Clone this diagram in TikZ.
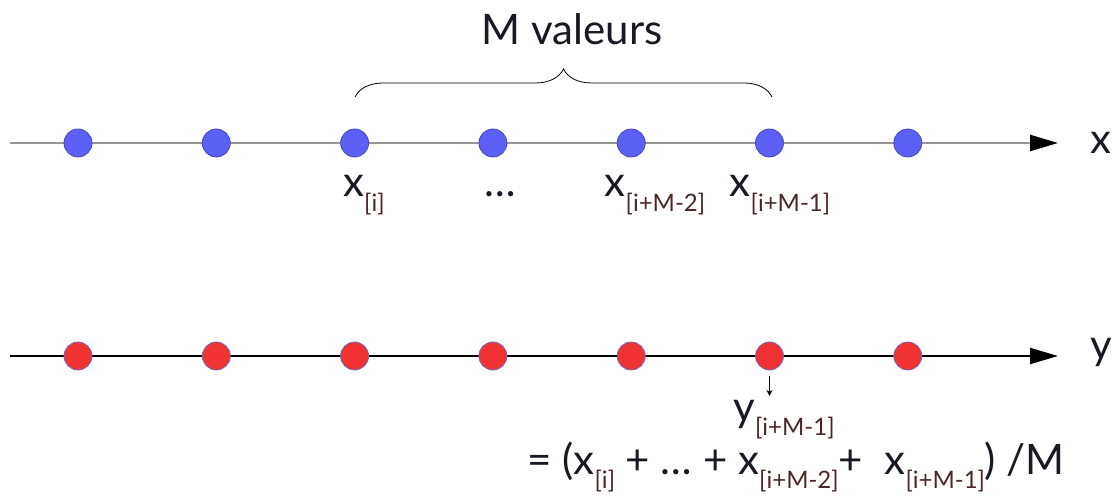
\documentclass[tikz,border=0pt]{standalone}
\usepackage{fontspec}
\setmainfont{Lato}
\usetikzlibrary{calc, positioning}
\usetikzlibrary{arrows.meta}
\usetikzlibrary{decorations.pathreplacing}

\definecolor{dotblue}{RGB}{92,96,245}
\definecolor{dotred}{RGB}{240,50,50}
\definecolor{axisgray}{RGB}{150,150,150}
\definecolor{subbrown}{RGB}{75,40,40}
\definecolor{textdark}{RGB}{25,25,35}
\newcommand{\subidx}[1]{\raisebox{-0.7ex}{\fontsize{12}{14}\selectfont\color{subbrown}[#1]}}

\begin{document}
\begin{tikzpicture}[x=0.5pt,y=-0.5pt,font=\fontsize{21}{25}\selectfont,text=textdark,
  bluedot/.style={circle,fill=dotblue,draw=dotblue!75!black,line width=0.4pt,minimum size=14pt,inner sep=0pt},
  reddot/.style={circle,fill=dotred,draw=dotblue!60!gray,line width=0.4pt,minimum size=14pt,inner sep=0pt},
  axis/.style={line width=1.2pt,-{Triangle[length=14pt,width=8pt]}}]
\useasboundingbox (0,0) rectangle (1114,497);
\def\topy{143}
\def\boty{356}
\def\gap{138.3}
\coordinate (XStart) at (10,\topy);
\coordinate (XEnd) at (1058,\topy);
\coordinate (YStart) at (10,\boty);
\coordinate (YEnd) at (1058,\boty);

% the two axes
\draw[axis,axisgray,-{Triangle[length=14pt,width=8pt,black]}] (XStart) -- (XEnd);
\draw[axis,black] (YStart) -- (YEnd);
\node[anchor=west,inner sep=0pt] (XName) at (1090,\topy) {x};
\node[anchor=west,inner sep=0pt] (YName) at (1090,\boty-4) {y};

% samples
\foreach \i in {0,...,6} {
  \node[bluedot] (X\i) at (78+\gap*\i,\topy) {};
  \node[reddot] (Y\i) at (78+\gap*\i,\boty) {};
}

\node[anchor=base,inner sep=0pt] (LabelI) at (364,197) {x\subidx{i}};
\node[anchor=base,inner sep=0pt] (LabelDots) at (500,197) {\dots};
\node[anchor=base,inner sep=0pt] (LabelM2) at (655,197) {x\subidx{i+M-2}};
\node[anchor=base,inner sep=0pt] (LabelM1) at (780,197) {x\subidx{i+M-1}};

% brace over the M values
\coordinate (BraceLeft) at (355,97);
\coordinate (BraceRight) at (772,97);
\draw[thin,decorate,decoration={brace,amplitude=14pt}] (BraceLeft) -- (BraceRight);
\node[anchor=base,inner sep=0pt] (MValeurs) at (572,45) {M valeurs};

% result
\node[anchor=base,inner sep=0pt] (LabelY) at (784,421) {y\subidx{i+M-1}};
\draw[-{Stealth[length=3pt,width=3pt]},line width=0.5pt,shorten <=3pt] (Y5) -- ($(Y5)+(0,40)$);
\node[anchor=base west,inner sep=0pt] (Formula) at (527,474)
  {= (x\subidx{i} + \dots{} + x\subidx{i+M-2}+ \ x\subidx{i+M-1}) /M};
\end{tikzpicture}
\end{document}
